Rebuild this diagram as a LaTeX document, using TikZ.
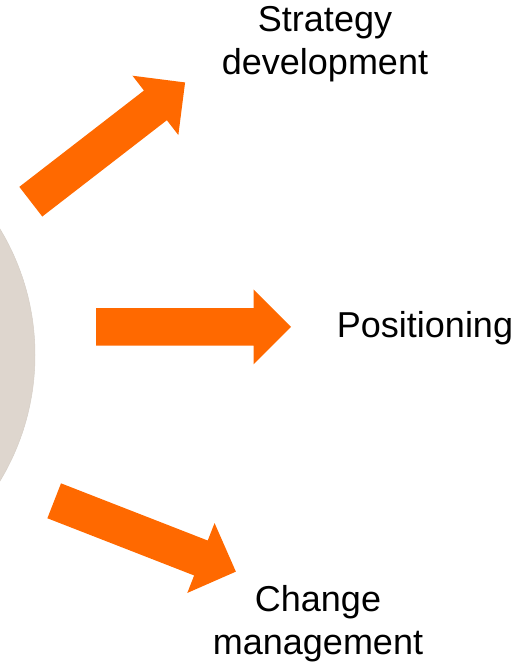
\documentclass[tikz,border=0pt]{standalone}
\usepackage{fontspec}
\setmainfont{Liberation Sans}
\definecolor{arroworange}{RGB}{255,105,0}
\definecolor{discleft}{RGB}{225,213,210}
\definecolor{discright}{RGB}{222,214,206}
\definecolor{discedge}{RGB}{214,207,199}
\begin{document}
\begin{tikzpicture}[x=1pt,y=1pt,
  bigarrow/.style={fill=arroworange},
  label/.style={font=\fontsize{36}{43}\selectfont, align=center, anchor=base, inner sep=0pt, text=black}]
\clip (0,0) rectangle (531,666);
\useasboundingbox (0,0) rectangle (531,666);
% disc
\shade[left color=discleft, right color=discright, draw=discedge, line width=0.5pt]
  (-209,311) circle (244);
% arrows
\begin{scope}[shift={(30.8,464.3)}, rotate=37.7]
  \fill[bigarrow] (0,-18.75) -- (157.5,-18.75) -- (157.5,-37.5) -- (195,0) -- (157.5,37.5) -- (157.5,18.75) -- (0,18.75) -- cycle;
\end{scope}
\begin{scope}[shift={(96,339)}]
  \fill[bigarrow] (0,-18.75) -- (157.5,-18.75) -- (157.5,-37.5) -- (195,0) -- (157.5,37.5) -- (157.5,18.75) -- (0,18.75) -- cycle;
\end{scope}
\begin{scope}[shift={(54.2,165.2)}, rotate=-21.3]
  \fill[bigarrow] (0,-18.75) -- (157.5,-18.75) -- (157.5,-37.5) -- (195,0) -- (157.5,37.5) -- (157.5,18.75) -- (0,18.75) -- cycle;
\end{scope}
% labels (base anchor = baseline of last line)
\node[label] (strategy) at (325,591) {Strategy\\development};
\node[label] (positioning) at (425,328) {Positioning};
\node[label] (change) at (318,11) {Change\\management};
\end{tikzpicture}
\end{document}
